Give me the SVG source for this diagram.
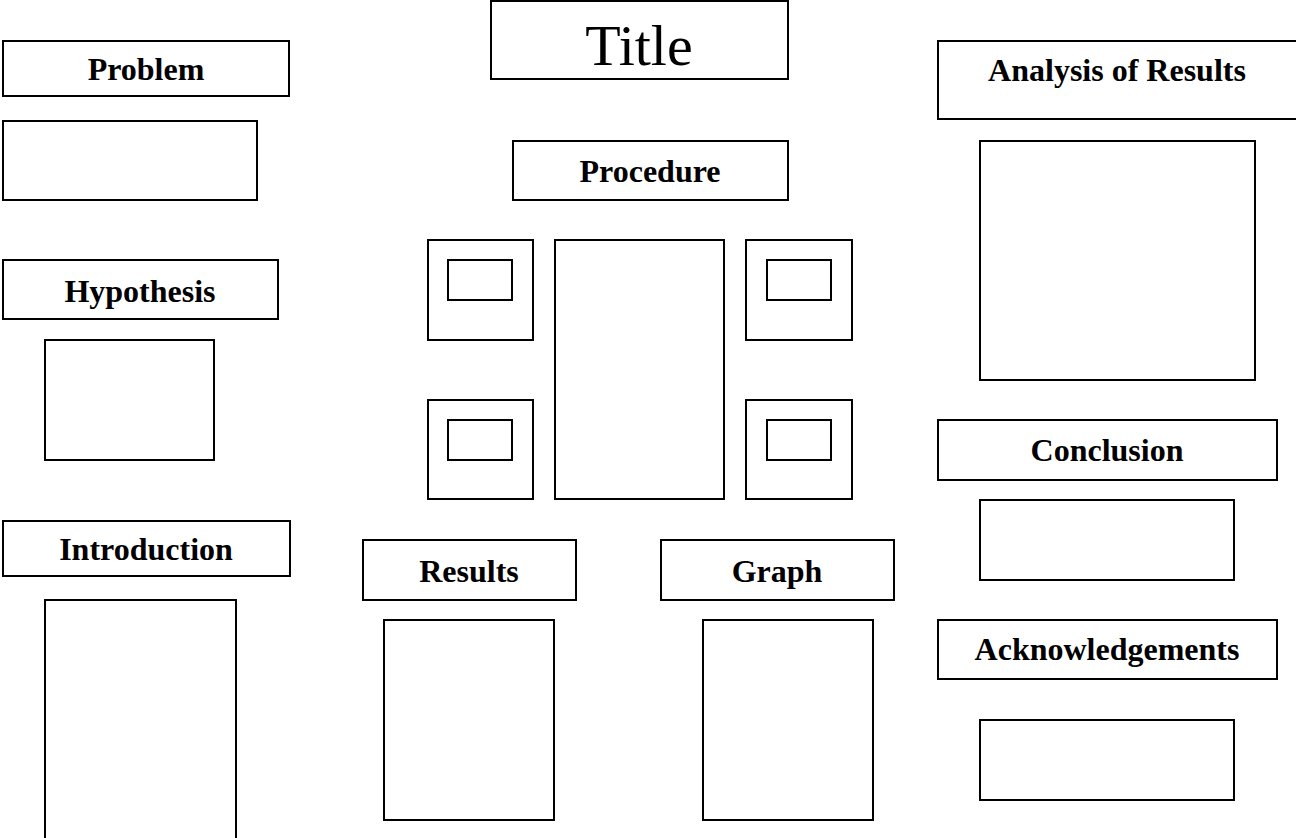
<svg xmlns="http://www.w3.org/2000/svg" width="1296" height="838" viewBox="0 0 1296 838">
<style>
rect{fill:#fff;stroke:#000;stroke-width:2}
text{font-family:"Liberation Serif","Times New Roman",serif;fill:#000;text-anchor:middle}
.h{font-size:32px;font-weight:bold}
.t{font-size:58px}
</style>
<rect x="0" y="0" width="1296" height="838" style="stroke:none"/>
<g id="title"><rect x="491" y="1" width="297" height="78"/><text class="t" x="639" y="65">Title</text></g>
<g id="problem"><rect x="3" y="41" width="286" height="55"/><text class="h" x="146" y="80">Problem</text></g>
<g id="problem-box"><rect x="3" y="121" width="254" height="79"/></g>
<g id="hypothesis"><rect x="3" y="260" width="275" height="59"/><text class="h" x="140" y="302">Hypothesis</text></g>
<g id="hypothesis-box"><rect x="45" y="340" width="169" height="120"/></g>
<g id="introduction"><rect x="3" y="521" width="287" height="55"/><text class="h" x="146" y="560">Introduction</text></g>
<g id="introduction-box"><rect x="45" y="600" width="191" height="260"/></g>
<g id="procedure"><rect x="513" y="141" width="275" height="59"/><text class="h" x="650" y="182">Procedure</text></g>
<g id="proc-ul"><rect x="428" y="240" width="105" height="100"/><rect x="448" y="260" width="64" height="40"/></g>
<g id="proc-ur"><rect x="746" y="240" width="106" height="100"/><rect x="767" y="260" width="64" height="40"/></g>
<g id="proc-ll"><rect x="428" y="400" width="105" height="99"/><rect x="448" y="420" width="64" height="40"/></g>
<g id="proc-lr"><rect x="746" y="400" width="106" height="99"/><rect x="767" y="420" width="64" height="40"/></g>
<g id="proc-center"><rect x="555" y="240" width="169" height="259"/></g>
<g id="results"><rect x="363" y="540" width="213" height="60"/><text class="h" x="469" y="582">Results</text></g>
<g id="results-box"><rect x="384" y="620" width="170" height="200"/></g>
<g id="graph"><rect x="661" y="540" width="233" height="60"/><text class="h" x="777" y="582">Graph</text></g>
<g id="graph-box"><rect x="703" y="620" width="170" height="200"/></g>
<g id="analysis"><rect x="938" y="41" width="400" height="78"/><text class="h" x="1117" y="81">Analysis of Results</text></g>
<g id="analysis-box"><rect x="980" y="141" width="275" height="239"/></g>
<g id="conclusion"><rect x="938" y="420" width="339" height="60"/><text class="h" x="1107" y="461">Conclusion</text></g>
<g id="conclusion-box"><rect x="980" y="500" width="254" height="80"/></g>
<g id="acknowledgements"><rect x="938" y="620" width="339" height="59"/><text class="h" x="1107" y="660">Acknowledgements</text></g>
<g id="acknowledgements-box"><rect x="980" y="720" width="254" height="80"/></g>
<g id="connectors"></g>
</svg>
